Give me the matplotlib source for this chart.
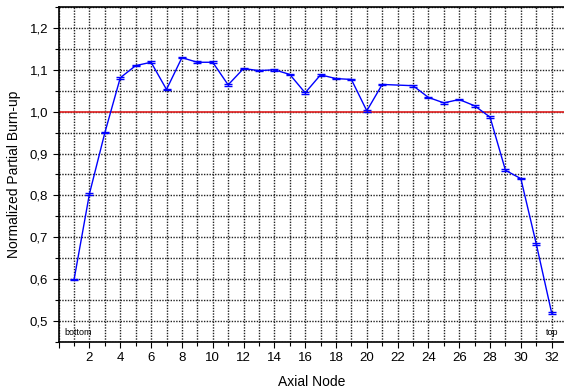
import numpy as np
import matplotlib
matplotlib.use('Agg')
import matplotlib.pyplot as plt
from matplotlib.ticker import MultipleLocator, FuncFormatter

# axial nodes (node 22 has no point)
nodes = [1, 2, 3, 4, 5, 6, 7, 8, 9, 10, 11, 12, 13, 14, 15, 16,
         17, 18, 19, 20, 21, 23, 24, 25, 26, 27, 28, 29, 30, 31, 32]
burnup = [0.599, 0.804, 0.950, 1.081, 1.110, 1.118, 1.053, 1.129, 1.118, 1.118,
          1.064, 1.103, 1.098, 1.100, 1.089, 1.045, 1.088, 1.079, 1.077, 1.002,
          1.065, 1.062, 1.034, 1.021, 1.029, 1.014, 0.987, 0.860, 0.840, 0.684, 0.519]
err = 0.002

plt.rcParams['font.family'] = ['Liberation Sans', 'DejaVu Sans']

fig = plt.figure(figsize=(5.64, 3.89), dpi=100)
ax = fig.add_axes([0.104, 0.121, 0.896, 0.861])

ax.set_xlim(0, 32.8)
ax.set_ylim(0.45, 1.25)

ax.xaxis.set_major_locator(MultipleLocator(2))
ax.xaxis.set_minor_locator(MultipleLocator(1))
ax.yaxis.set_major_locator(MultipleLocator(0.1))
ax.yaxis.set_minor_locator(MultipleLocator(0.05))
ax.yaxis.set_major_formatter(FuncFormatter(lambda v, p: ('%.1f' % v).replace('.', ',')))
ax.xaxis.set_major_formatter(FuncFormatter(lambda v, p: '%d' % v if v > 0 else ''))

ax.grid(True, which='both', color='#222222', linestyle=(0, (1, 1)), linewidth=1.0)
ax.set_axisbelow(True)

ax.axhline(1.0, color='#e02020', linewidth=1.2, zorder=2)
ax.errorbar(nodes, burnup, yerr=err, color='#0000ff', linewidth=1.0,
            capsize=3, elinewidth=1.0, capthick=1.0, zorder=3)

ax.spines['right'].set_visible(False)
for s in ['left', 'bottom', 'top']:
    ax.spines[s].set_linewidth(1.2)

ax.tick_params(which='both', direction='out', labelsize=9.5, length=4, width=0.8)
ax.tick_params(which='minor', length=3)
ax.tick_params(axis='x', top=False)

ax.text(0.35, 0.466, 'bottom', fontsize=6.5)
ax.text(32, 0.466, 'top', fontsize=6.5, ha='center')

ax.set_xlabel('Axial Node', fontsize=10, labelpad=8)
ax.set_ylabel('Normalized Partial Burn-up', fontsize=10, labelpad=6)

fig.savefig('out.png', dpi=100)
